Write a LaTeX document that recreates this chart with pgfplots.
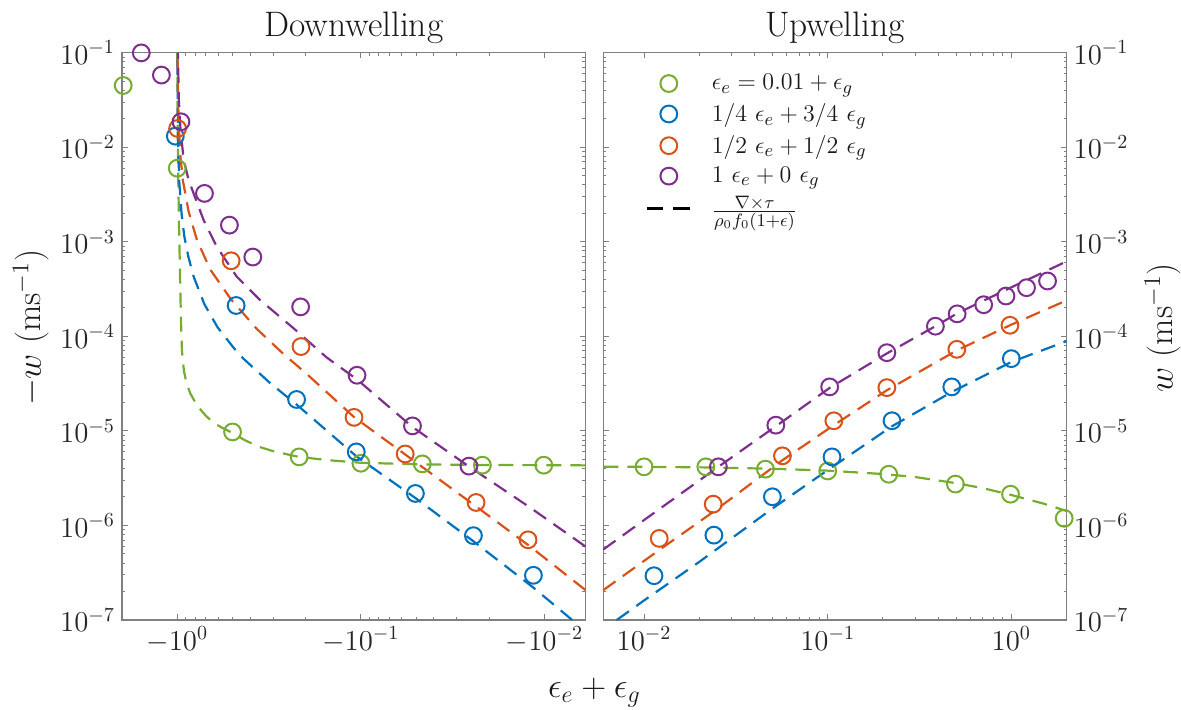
\documentclass[border=0pt]{standalone}
\usepackage{pgfplots}
\pgfplotsset{compat=1.18}
\definecolor{mgreen}{rgb}{0.466,0.674,0.188}
\definecolor{mblue}{rgb}{0,0.447,0.741}
\definecolor{morange}{rgb}{0.85,0.325,0.098}
\definecolor{mpurple}{rgb}{0.494,0.184,0.556}
\pgfplotsset{
  myMarks/.style={only marks, mark=o, mark size=4.2pt, line width=1pt},
  myLine/.style={dash pattern=on 7.5pt off 4.5pt, line width=1.1pt, forget plot},
}
\begin{document}
\begin{tikzpicture}
\path[use as bounding box] (0,0) rectangle (590.5pt,355pt);
% ---------------- Downwelling ----------------
\begin{axis}[
  scale only axis, width=231.65pt, height=283.65pt,
  xmode=log, ymode=log,
  xmin=0.006, xmax=2, ymin=1e-7, ymax=1e-1,
  ytick={1e-7,1e-6,1e-5,1e-4,1e-3,1e-2,1e-1},
  xtick={0.01,0.1,1},
  clip=false,
  axis line style={black!50, line width=0.6pt},
  tick style={black!50, line width=0.5pt},
  major tick length=2.8pt, minor tick length=1.5pt,
  tick label style={font=\fontsize{14}{16}\selectfont, text=black!85},
  title style={font=\fontsize{17.7}{20}\selectfont, text=black!90, at={(0.5,1)}, anchor=base, yshift=2.3pt},
  label style={font=\fontsize{17}{20}\selectfont, text=black!90},
  at={(61pt,45pt)}, anchor=south west,
  x dir=reverse,
  xticklabels={$-10^{-2}$,$-10^{-1}$,$-10^{0}$},
  title={Downwelling},
  xlabel={$\epsilon_e + \epsilon_g$},
  xlabel style={at={(axis description cs:1.0195,0)}, anchor=base, yshift=-38.5pt},
  ylabel={$-w$ (ms$^{-1}$)},
  ylabel style={at={(axis description cs:-0.196,0.515)}, anchor=center},
]
\addplot[myMarks, color=mgreen] coordinates {(1.97,0.045) (1.0,6.0e-3) (0.5,9.75e-6) (0.217,5.31e-6) (0.1,4.55e-6) (0.0463,4.48e-6) (0.0218,4.34e-6) (0.0101,4.34e-6)};
\addplot[myMarks, color=mblue] coordinates {(1.025,0.0131) (0.478,2.12e-4) (0.224,2.15e-5) (0.106,6.0e-6) (0.0505,2.18e-6) (0.0244,7.8e-7) (0.0115,2.97e-7)};
\addplot[myMarks, color=morange] coordinates {(0.996,0.0158) (0.509,6.3e-4) (0.212,7.8e-5) (0.109,1.39e-5) (0.0574,5.7e-6) (0.0236,1.75e-6) (0.0123,7.05e-7)};
\addplot[myMarks, color=mpurple] coordinates {(1.57,0.0995) (1.22,0.058) (0.955,0.0186) (0.711,3.25e-3) (0.52,1.5e-3) (0.388,6.9e-4) (0.213,2.05e-4) (0.105,3.88e-5) (0.0524,1.13e-5) (0.0258,4.24e-6)};
% dashed curves
\addplot[myLine, color=mgreen] coordinates {(0.006,4.32e-6) (0.0101,4.34e-6) (0.022,4.36e-6) (0.046,4.42e-6) (0.1,4.6e-6) (0.15,4.9e-6) (0.217,5.3e-6) (0.3,6.1e-6) (0.36,6.8e-6) (0.43,8.0e-6) (0.5,9.5e-6) (0.57,1.08e-5) (0.635,1.22e-5) (0.7,1.45e-5) (0.78,1.85e-5) (0.85,2.5e-5) (0.89,3.2e-5) (0.92,4.3e-5) (0.943,7.0e-5) (0.955,1.5e-4) (0.965,4.0e-4) (0.978,1.5e-3) (0.99,6.0e-3) (0.997,0.025) (0.9995,0.1)};
\addplot[myLine, color=mblue] coordinates {(0.00707,1.0e-7) (0.0115,2.2e-7) (0.0244,6.8e-7) (0.0505,1.95e-6) (0.106,5.4e-6) (0.224,1.9e-5) (0.312,3.2e-5) (0.436,5.8e-5) (0.494,7.6e-5) (0.604,1.25e-4) (0.713,2.2e-4) (0.815,4.3e-4) (0.871,7.0e-4) (0.916,1.15e-3) (0.948,2.0e-3) (0.975,4.3e-3) (0.99,0.011) (0.9989,0.1)};
\addplot[myLine, color=morange] coordinates {(0.006,2.08e-7) (0.012,6.0e-7) (0.0237,1.6e-6) (0.06,6.0e-6) (0.109,1.4e-5) (0.2,4.1e-5) (0.264,6.5e-5) (0.369,1.2e-4) (0.509,2.45e-4) (0.662,5.1e-4) (0.782,1.05e-3) (0.868,2.1e-3) (0.931,4.4e-3) (0.96,7.8e-3) (0.98,0.016) (0.99,0.033) (0.9967,0.1)};
\addplot[myLine, color=mpurple] coordinates {(0.006,6.0e-7) (0.012,1.55e-6) (0.0258,4.2e-6) (0.0524,1.1e-5) (0.105,3.5e-5) (0.154,6.0e-5) (0.233,1.22e-4) (0.354,2.42e-4) (0.474,4.27e-4) (0.609,8.85e-4) (0.719,1.7e-3) (0.815,3.25e-3) (0.87,4.6e-3) (0.924,7.5e-3) (0.96,0.0154) (0.98,0.031) (0.9925,0.1)};
\end{axis}
% ---------------- Upwelling ----------------
\begin{axis}[
  scale only axis, width=231.65pt, height=283.65pt,
  xmode=log, ymode=log,
  xmin=0.006, xmax=2, ymin=1e-7, ymax=1e-1,
  ytick={1e-7,1e-6,1e-5,1e-4,1e-3,1e-2,1e-1},
  xtick={0.01,0.1,1},
  clip=false,
  axis line style={black!50, line width=0.6pt},
  tick style={black!50, line width=0.5pt},
  major tick length=2.8pt, minor tick length=1.5pt,
  tick label style={font=\fontsize{14}{16}\selectfont, text=black!85},
  title style={font=\fontsize{17.7}{20}\selectfont, text=black!90, at={(0.5,1)}, anchor=base, yshift=2.3pt},
  label style={font=\fontsize{17}{20}\selectfont, text=black!90},
  at={(301.65pt,45pt)}, anchor=south west,
  yticklabel pos=right,
  title={Upwelling},
  ylabel={$w$ (ms$^{-1}$)},
  ylabel style={at={(axis description cs:1.208,0.515)}, anchor=center},
  legend cell align=left,
  legend image code/.code={\draw[mark repeat=2,mark phase=2,#1] plot coordinates {(0pt,0pt) (11pt,0pt) (22pt,0pt)};},
  legend style={draw=none, fill=none, font=\fontsize{12.4}{14}\selectfont, text=black!90,
    at={(axis description cs:0.0775,0.9714)}, anchor=north west,
    row sep=4.35pt, column sep=9.4pt, nodes={inner sep=0.5pt}},
]
\addplot[myMarks, color=mgreen] coordinates {(0.01,4.17e-6) (0.0217,4.17e-6) (0.0458,3.94e-6) (0.1,3.77e-6) (0.215,3.48e-6) (0.496,2.74e-6) (0.99,2.14e-6) (1.94,1.19e-6)};
\addlegendentry{$\epsilon_e = 0.01 + \epsilon_g$}
\addplot[myMarks, color=mblue] coordinates {(0.01133,2.94e-7) (0.024,7.9e-7) (0.05,2.01e-6) (0.1056,5.31e-6) (0.224,1.28e-5) (0.474,2.92e-5) (1.0,5.81e-5)};
\addlegendentry{$1/4\ \epsilon_e + 3/4\ \epsilon_g$}
\addplot[myMarks, color=morange] coordinates {(0.0121,7.3e-7) (0.0238,1.68e-6) (0.0567,5.45e-6) (0.108,1.28e-5) (0.210,2.87e-5) (0.505,7.29e-5) (0.983,1.31e-4)};
\addlegendentry{$1/2\ \epsilon_e + 1/2\ \epsilon_g$}
\addplot[myMarks, color=mpurple] coordinates {(0.0254,4.17e-6) (0.0522,1.15e-5) (0.1025,2.92e-5) (0.210,6.72e-5) (0.386,1.28e-4) (0.507,1.73e-4) (0.707,2.16e-4) (0.935,2.67e-4) (1.21,3.27e-4) (1.575,3.85e-4)};
\addlegendentry{$1\ \epsilon_e + 0\ \epsilon_g$}
\addlegendimage{black, dash pattern=on 8.3pt off 5pt, line width=1.2pt}
\addlegendentry{$\frac{\nabla\times\tau}{\rho_0 f_0(1+\epsilon)}$}
% dashed curves
\addplot[myLine, color=mgreen] coordinates {(0.006,4.18e-6) (0.01,4.17e-6) (0.02,4.12e-6) (0.05,3.98e-6) (0.1,3.8e-6) (0.2,3.5e-6) (0.3,3.25e-6) (0.5,2.8e-6) (0.7,2.48e-6) (1,2.1e-6) (1.5,1.7e-6) (2,1.42e-6)};
\addplot[myLine, color=mblue] coordinates {(0.0071,1.0e-7) (0.01,1.61e-7) (0.02,4.12e-7) (0.05,1.51e-6) (0.1,3.85e-6) (0.224,1.12e-5) (0.474,2.58e-5) (1.0,5.36e-5) (2,8.9e-5)};
\addplot[myLine, color=morange] coordinates {(0.006,2.07e-7) (0.0121,5.5e-7) (0.0238,1.39e-6) (0.0567,4.9e-6) (0.108,1.15e-5) (0.21,2.69e-5) (0.505,7.1e-5) (0.983,1.31e-4) (2,2.4e-4)};
\addplot[myLine, color=mpurple] coordinates {(0.006,5.57e-7) (0.01,1.14e-6) (0.0254,4.17e-6) (0.0522,1.12e-5) (0.1025,2.85e-5) (0.21,6.6e-5) (0.386,1.28e-4) (0.507,1.75e-4) (1.0,3.3e-4) (2,6.2e-4)};
\end{axis}
\end{tikzpicture}
\end{document}
